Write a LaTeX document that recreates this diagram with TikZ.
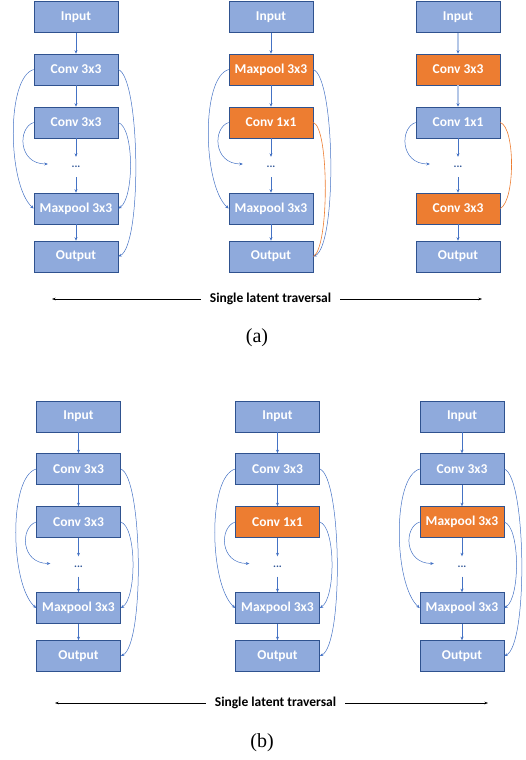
\documentclass[tikz,border=0pt]{standalone}
\usepackage{fontspec}
\setmainfont{Liberation Serif}
\newfontfamily\calib{Carlito}
\usepackage{xcolor}
\usetikzlibrary{arrows.meta}

\definecolor{boxblue}{HTML}{8FAADC}
\definecolor{boxorange}{HTML}{ED7D31}
\definecolor{boxline}{HTML}{2F528F}
\definecolor{linkblue}{HTML}{4472C4}
\definecolor{lightlink}{HTML}{B4C7E7}
\definecolor{dotblue}{HTML}{2F5597}

\begin{document}
\begin{tikzpicture}[x=1pt, y=-1pt,
	box/.style={draw=boxline, line width=.6pt, fill=boxblue, minimum width=84pt, minimum height=31pt, inner sep=0pt, text=white, font=\calib\bfseries\fontsize{13.5}{13.5}\selectfont},
	dots/.style={minimum width=56pt, minimum height=20pt, inner sep=0pt, text=dotblue, font=\calib\bfseries\fontsize{11}{11}\selectfont},
	link/.style={draw=linkblue, line width=.5pt, -{Stealth[length=3.5pt, width=3pt, linkblue]}},
	skip/.style={draw=linkblue, line width=.5pt, -{Stealth[length=3.5pt, width=3pt]}},
	oskip/.style={draw=boxorange, line width=.6pt},
	trav/.style={inner xsep=9pt, inner ysep=0pt, font=\calib\bfseries\fontsize{13.5}{13.5}\selectfont},
	travline/.style={line width=.5pt, -{Stealth[length=3.5pt, width=2.5pt]}},
	sub/.style={font=\fontsize{20}{20}\selectfont}]
	\useasboundingbox (0,0) rectangle (526,760);

	% one column per candidate: name/x/y/labels and fills
	\foreach \n/\x/\y/\ta/\fa/\tb/\fb/\tc/\fc/\ec/\lw in {
		a1/76/0/Conv 3x3/boxblue/Conv 3x3/boxblue/Maxpool 3x3/boxblue/linkblue/.5pt,
		a2/271/0/Maxpool 3x3/boxorange/Conv 1x1/boxorange/Maxpool 3x3/boxblue/linkblue/.5pt,
		a3/458/0/Conv 3x3/boxorange/Conv 1x1/boxblue/Conv 3x3/boxorange/lightlink/2pt,
		b1/78.5/399.5/Conv 3x3/boxblue/Conv 3x3/boxblue/Maxpool 3x3/boxblue/linkblue/.5pt,
		b2/277.5/399.5/Conv 3x3/boxblue/Conv 1x1/boxorange/Maxpool 3x3/boxblue/linkblue/.5pt,
		b3/462/399.5/Conv 3x3/boxblue/Maxpool 3x3/boxorange/Maxpool 3x3/boxblue/linkblue/.5pt}{
		\node[box] (\n-in) at (\x,\y+17) {Input};
		\node[box, fill=\fa] (\n-c1) at (\x,\y+69.5) {\ta};
		\node[box, fill=\fb] (\n-c2) at (\x,\y+122.5) {\tb};
		\node[dots] (\n-d) at (\x,\y+167) {...};
		\node[box, fill=\fc] (\n-c3) at (\x,\y+208.5) {\tc};
		\node[box] (\n-out) at (\x,\y+256.5) {Output};

		\draw[link, draw=\ec, line width=\lw] (\n-in) -- (\n-c1);
		\draw[link, draw=\ec, line width=\lw] (\n-c1) -- (\n-c2);
		\draw[link] (\n-c2) -- (\n-d);
		\draw[link] (\n-d) -- (\n-c3);
		\draw[link] (\n-c3) -- (\n-out);
		\draw[skip] (\n-c2.west) .. controls +(-16,5) and +(-30,0) .. ([yshift=3pt]\n-d.west);
	}

	\foreach \n in {a1,a2,b1,b2,b3}{
		\draw[skip] (\n-c1.west) .. controls +(-28,8) and +(-26,-23) .. (\n-c3.west);
		\draw[skip] (\n-c1.east) .. controls +(22,8) and +(24,-11) .. (\n-out.east);
	}
	\foreach \n in {a1,b1,b2,b3}{
		\draw[skip] (\n-c2.east) .. controls +(16,5) and +(16,-10) .. (\n-c3.east);
	}
	\draw[oskip] (a2-c2.east) .. controls +(16,5) and +(16,-8) .. (a2-out.east);
	\draw[oskip] (a3-c2.east) .. controls +(15,5) and +(15,-8) .. (a3-c3.east);

	% traversal arrows and captions
	\node[trav] (ta) at (270.5,299) {Single latent traversal};
	\coordinate (ta-l) at (52,299);
	\coordinate (ta-r) at (482,299);
	\draw[travline] (ta.west) -- (ta-l);
	\draw[travline] (ta.east) -- (ta-r);
	\node[sub] (capa) at (257,338) {(a)};

	\node[trav] (tb) at (275.5,703) {Single latent traversal};
	\coordinate (tb-l) at (55,703);
	\coordinate (tb-r) at (488,703);
	\draw[travline] (tb.west) -- (tb-l);
	\draw[travline] (tb.east) -- (tb-r);
	\node[sub] (capb) at (262,743) {(b)};
\end{tikzpicture}
\end{document}
